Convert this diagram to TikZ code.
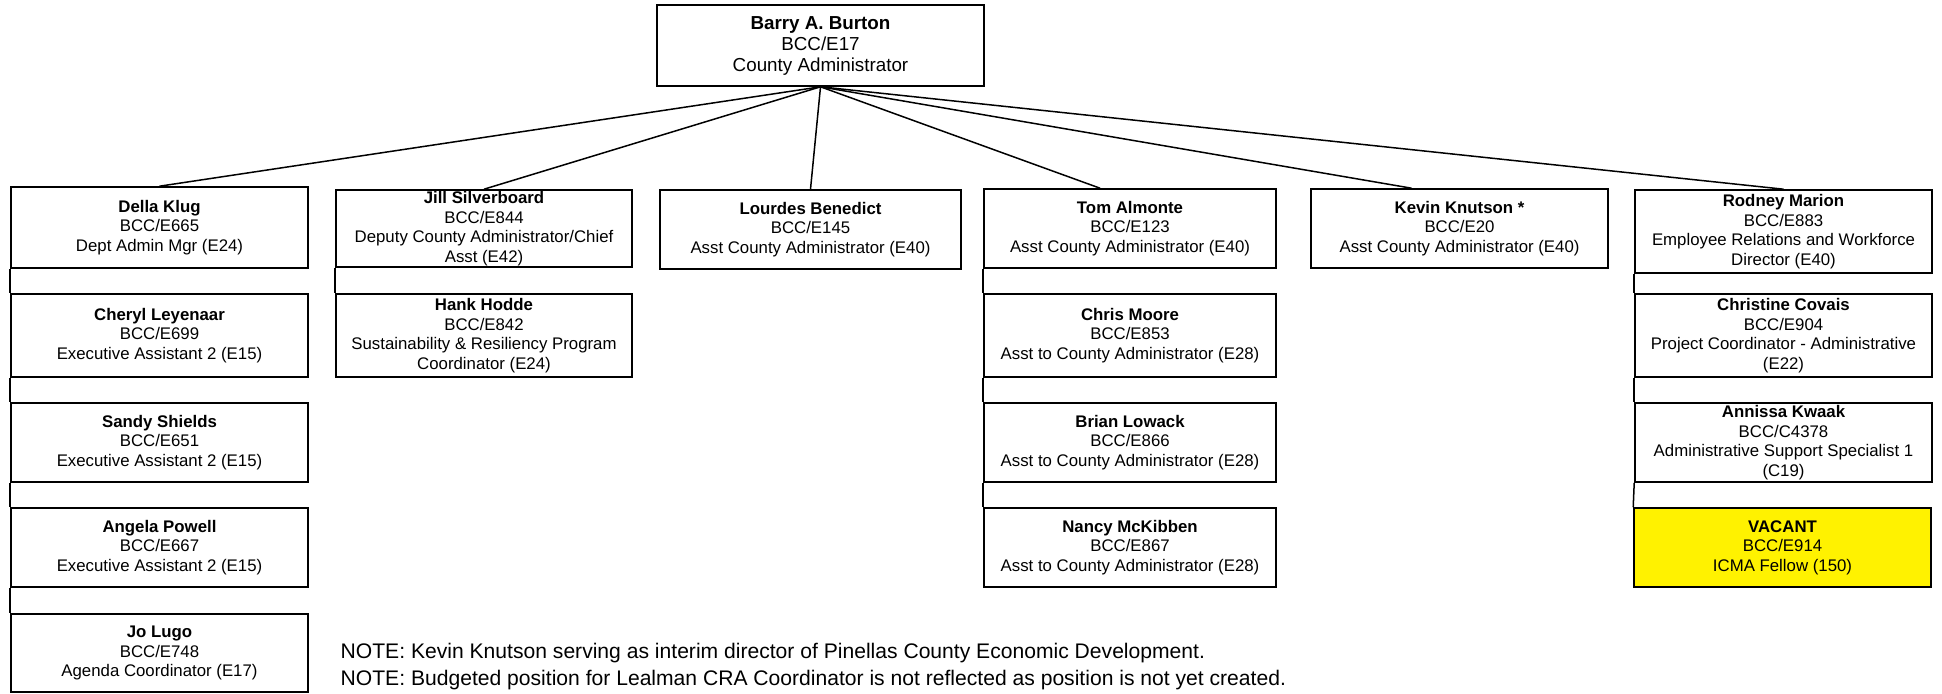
\documentclass[tikz,border=0pt]{standalone}
\usepackage{fontspec}
\setmainfont{Liberation Sans}
\usetikzlibrary{positioning}

\begin{document}
\begin{tikzpicture}[x=1pt,y=-1pt,
    post/.style={draw, line width=1.6pt, align=center, inner sep=0pt, minimum width=297pt, minimum height=79pt, font=\fontsize{16.8}{19.5}\selectfont},
    link/.style={line width=1.5pt}]
    \useasboundingbox (0,0) rectangle (1942,693);

    % top
    \node[post, minimum width=327pt, minimum height=81pt, font=\fontsize{18.8}{21}\selectfont] at (820.5,45.5)(burton){\textbf{Barry A. Burton}\\BCC/E17\\County Administrator};

    % first row
    \node[post, minimum height=81pt] at (159.5,227.5)(della){\textbf{Della Klug}\\BCC/E665\\Dept Admin Mgr (E24)};
    \node[post, minimum width=296pt, minimum height=77pt] at (484,228.5)(jill){\textbf{Jill Silverboard}\\BCC/E844\\Deputy County Administrator/Chief\\Asst (E42)};
    \node[post, minimum width=301pt] at (810.5,229.5)(lourdes){\textbf{Lourdes Benedict}\\BCC/E145\\Asst County Administrator (E40)};
    \node[post, minimum width=292pt] at (1130,228.5)(tom){\textbf{Tom Almonte}\\BCC/E123\\Asst County Administrator (E40)};
    \node[post] at (1459.5,228.5)(kevin){\textbf{Kevin Knutson *}\\BCC/E20\\Asst County Administrator (E40)};
    \node[post, minimum height=83pt] at (1783.5,231.5)(rodney){\textbf{Rodney Marion}\\BCC/E883\\Employee Relations and Workforce\\Director (E40)};

    % second row
    \node[post, minimum height=83pt] at (159.5,335.5)(cheryl){\textbf{Cheryl Leyenaar}\\BCC/E699\\Executive Assistant 2 (E15)};
    \node[post, minimum width=296pt, minimum height=83pt] at (484,335.5)(hank){\textbf{Hank Hodde}\\BCC/E842\\Sustainability \& Resiliency Program\\Coordinator (E24)};
    \node[post, minimum width=292pt, minimum height=83pt] at (1130,335.5)(chris){\textbf{Chris Moore}\\BCC/E853\\Asst to County Administrator (E28)};
    \node[post, minimum height=83pt] at (1783.5,335.5)(christine){\textbf{Christine Covais}\\BCC/E904\\Project Coordinator - Administrative\\(E22)};

    % third row
    \node[post] at (159.5,442.5)(sandy){\textbf{Sandy Shields}\\BCC/E651\\Executive Assistant 2 (E15)};
    \node[post, minimum width=292pt] at (1130,442.5)(brian){\textbf{Brian Lowack}\\BCC/E866\\Asst to County Administrator (E28)};
    \node[post] at (1783.5,442.5)(annissa){\textbf{Annissa Kwaak}\\BCC/C4378\\Administrative Support Specialist 1\\(C19)};

    % fourth row
    \node[post] at (159.5,547.5)(angela){\textbf{Angela Powell}\\BCC/E667\\Executive Assistant 2 (E15)};
    \node[post, minimum width=292pt] at (1130,547.5)(nancy){\textbf{Nancy McKibben}\\BCC/E867\\Asst to County Administrator (E28)};
    \node[post, fill=yellow] at (1782.5,547.5)(vacant){\textbf{VACANT}\\BCC/E914\\ICMA Fellow (150)};

    % fifth row
    \node[post, minimum height=78pt] at (159.5,653)(jolugo){\textbf{Jo Lugo}\\BCC/E748\\Agenda Coordinator (E17)};

    \node[anchor=west, align=left, inner sep=0pt, font=\fontsize{21.1}{26.7}\selectfont] at (340.5,666.5)(note){NOTE: Kevin Knutson serving as interim director of Pinellas County Economic Development.\\NOTE: Budgeted position for Lealman CRA Coordinator is not reflected as position is not yet created.};

    \path[link]
        (burton.south)edge(della.north)
        (burton.south)edge(jill.north)
        (burton.south)edge(lourdes.north)
        (burton.south)edge([xshift=-30pt]tom.north)
        (burton.south)edge([xshift=-48pt]kevin.north)
        (burton.south)edge(rodney.north)
        ;
    \path[link]
        (della.south west)edge(cheryl.north west)
        (cheryl.south west)edge(sandy.north west)
        (sandy.south west)edge(angela.north west)
        (angela.south west)edge(jolugo.north west)
        (jill.south west)edge(hank.north west)
        (tom.south west)edge(chris.north west)
        (chris.south west)edge(brian.north west)
        (brian.south west)edge(nancy.north west)
        (rodney.south west)edge(christine.north west)
        (christine.south west)edge(annissa.north west)
        (annissa.south west)edge(vacant.north west)
        ;
\end{tikzpicture}
\end{document}
